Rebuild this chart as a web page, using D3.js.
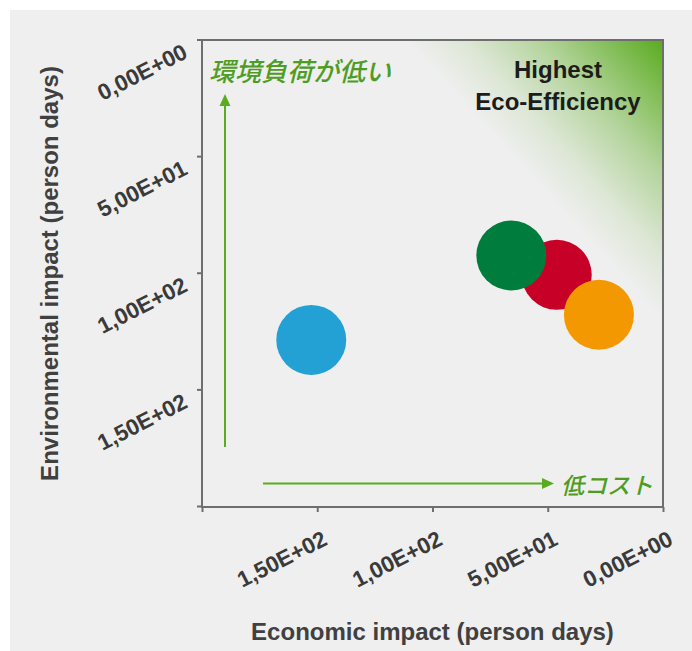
<!DOCTYPE html>
<html>
<head>
<meta charset="utf-8">
<script src="https://cdn.jsdelivr.net/npm/d3@7"></script>
<style>
  html, body { margin: 0; padding: 0; background: #ffffff; }
  svg { display: block; }
</style>
</head>
<body>
<svg id="chart" width="692" height="651"></svg>
<script>
// Economic impact (x) and environmental impact (y), both in person days
const economicImpact = [152.6, 46.1, 65.8, 27.8];
const environmentalImpact = [128.8, 100.9, 92.6, 118.0];
const bubbleColors = ["#23a1d5", "#c70028", "#007d3c", "#f39800"];

const tickValues = [200, 150, 100, 50, 0];
const tickLabels = ["", "1,50E+02", "1,00E+02", "5,00E+01", "0,00E+00"];

const xTitle = "Economic impact (person days)";
const yTitle = "Environmental impact (person days)";
const cornerLabel = ["Highest", "Eco-Efficiency"];
const upLabel = "環境負荷が低い";
const rightLabel = "低コスト";

const W = 692, H = 651;
const plot = { left: 202, right: 663, top: 40, bottom: 507 };
const radius = 35;
const green = "#5aab1f";
const labelGreen = "#4e9d22";
const latin = '"Liberation Sans", Arial, sans-serif';

const svg = d3.select("#chart");

// panel background
svg.append("rect").attr("x", 10).attr("y", 10).attr("width", W - 10).attr("height", H - 10)
  .attr("fill", "#efefef");

const x = d3.scaleLinear().domain([200, 0]).range([plot.left, plot.right]);
const y = d3.scaleLinear().domain([0, 200]).range([plot.top - 0.5, plot.bottom - 1]);

const fmt = d => tickLabels[tickValues.indexOf(d)];

// green fade in the top-right corner
const defs = svg.append("defs");
const grad = defs.append("linearGradient").attr("id", "ecoGrad")
  .attr("gradientUnits", "userSpaceOnUse")
  .attr("x1", plot.right).attr("y1", plot.top)
  .attr("x2", plot.right - 140).attr("y2", plot.top + 128);
[[0, 1], [0.2, 0.75], [0.48, 0.4], [0.78, 0.12], [1, 0]].forEach(([o, a]) => {
  grad.append("stop").attr("offset", o).attr("stop-color", green).attr("stop-opacity", a);
});
svg.append("rect")
  .attr("x", plot.left).attr("y", plot.top)
  .attr("width", plot.right - plot.left).attr("height", plot.bottom - plot.top)
  .attr("fill", "url(#ecoGrad)");

const styleTicks = g => {
  g.select(".domain").remove();
  g.selectAll(".tick line").attr("stroke", "#6e6e6e").attr("stroke-width", 2);
  g.selectAll(".tick text")
    .style("font-family", latin).style("font-weight", "bold").style("font-size", "22.5px")
    .attr("fill", "#3a3a3a")
    .attr("x", 0).attr("y", 0).attr("dy", 0)
    .attr("text-anchor", "end");
};

// axes
const xAxis = svg.append("g").attr("transform", `translate(0,${plot.bottom})`)
  .call(d3.axisBottom(x).tickValues(tickValues).tickFormat(fmt).tickSize(5).tickSizeOuter(0))
  .call(styleTicks);
xAxis.selectAll(".tick text").attr("transform", "translate(11,37) rotate(-27)");

const yAxis = svg.append("g").attr("transform", `translate(${plot.left},0)`)
  .call(d3.axisLeft(y).tickValues(tickValues.slice().reverse()).tickFormat(fmt).tickSize(5).tickSizeOuter(0))
  .call(styleTicks);
yAxis.selectAll(".tick text").attr("transform", "translate(-13,17) rotate(-27)");

// frame
svg.append("rect")
  .attr("x", plot.left).attr("y", plot.top)
  .attr("width", plot.right - plot.left).attr("height", plot.bottom - plot.top)
  .attr("fill", "none").attr("stroke", "#6e6e6e").attr("stroke-width", 2);

// bubbles
svg.append("g").selectAll("circle")
  .data(economicImpact.map((e, i) => ({ e, v: environmentalImpact[i], c: bubbleColors[i] })))
  .join("circle")
  .attr("cx", d => x(d.e)).attr("cy", d => y(d.v)).attr("r", radius)
  .attr("fill", d => d.c);

// direction arrows
const arrowHead = (tipX, tipY, dir) => {
  const L = 12, Wd = 5.5;
  let pts;
  if (dir === "up") pts = [[tipX, tipY], [tipX - Wd, tipY + L], [tipX + Wd, tipY + L]];
  else pts = [[tipX, tipY], [tipX - L, tipY - Wd], [tipX - L, tipY + Wd]];
  svg.append("polygon").attr("points", pts.map(p => p.join(",")).join(" ")).attr("fill", green);
};
svg.append("line").attr("x1", 225).attr("y1", 447).attr("x2", 225).attr("y2", 104)
  .attr("stroke", green).attr("stroke-width", 2);
arrowHead(225, 94, "up");
svg.append("line").attr("x1", 263).attr("y1", 483.5).attr("x2", 543).attr("y2", 483.5)
  .attr("stroke", green).attr("stroke-width", 2);
arrowHead(554, 483.5, "right");

const jpFont = '"Noto Sans CJK JP", sans-serif';
svg.append("text").attr("x", 209).attr("y", 81)
  .attr("font-family", jpFont).attr("font-size", 26).attr("font-style", "italic").attr("font-weight", 500)
  .attr("fill", labelGreen).text(upLabel);
svg.append("text").attr("x", 561).attr("y", 494)
  .attr("font-family", jpFont).attr("font-size", 23).attr("font-style", "italic").attr("font-weight", 500)
  .attr("fill", labelGreen).text(rightLabel);

// corner caption
const cap = svg.append("text")
  .attr("font-family", latin).attr("font-weight", "bold")
  .attr("font-size", 24).attr("fill", "#1c1c1c").attr("text-anchor", "middle");
cap.append("tspan").attr("x", 558).attr("y", 78).text(cornerLabel[0]);
cap.append("tspan").attr("x", 558).attr("y", 110).text(cornerLabel[1]);

// axis titles
svg.append("text")
  .attr("x", (plot.left + plot.right) / 2).attr("y", 640)
  .attr("text-anchor", "middle")
  .attr("font-family", latin).attr("font-weight", "bold")
  .attr("font-size", 24).attr("fill", "#404040").text(xTitle);
svg.append("text")
  .attr("transform", `translate(58,${(plot.top + plot.bottom) / 2}) rotate(-90)`)
  .attr("text-anchor", "middle")
  .attr("font-family", latin).attr("font-weight", "bold")
  .attr("font-size", 24).attr("fill", "#404040").text(yTitle);
</script>
</body>
</html>
